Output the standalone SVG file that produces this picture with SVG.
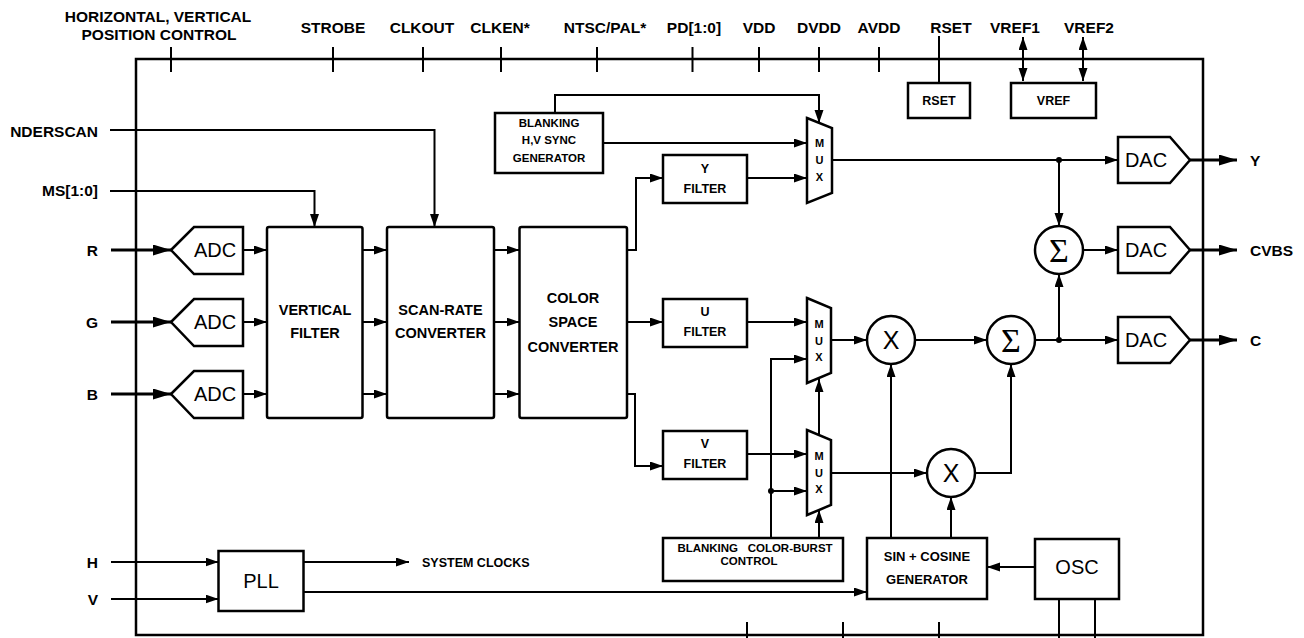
<svg xmlns="http://www.w3.org/2000/svg" width="1304" height="638" viewBox="0 0 1304 638">
<style>
text{font-family:"Liberation Sans",Arial,Helvetica,sans-serif;fill:#000}
.lbl{font-size:15.5px;font-weight:bold;text-anchor:middle}
.lft{font-size:15.5px;font-weight:bold;text-anchor:end}
.rgt{font-size:15.5px;font-weight:bold}
.b{fill:#fff;stroke:#000;stroke-width:2.5}
.w{fill:none;stroke:#000;stroke-width:2}
.t{fill:none;stroke:#000;stroke-width:3}
.big{font-size:20px;text-anchor:middle}
.blk{font-size:14.5px;font-weight:bold;text-anchor:middle}
.sm{font-size:12.5px;font-weight:bold;text-anchor:middle}
.xs{font-size:11.5px;font-weight:bold;text-anchor:middle}
.mux{font-size:11px;font-weight:bold;text-anchor:middle}
.sig{font-family:"Liberation Serif","Times New Roman",serif;font-size:34px;text-anchor:middle}
.mul{font-size:25px;text-anchor:middle}
.dot{fill:#000}
</style>
<defs>
<marker id="a" markerUnits="userSpaceOnUse" markerWidth="14" markerHeight="10" refX="13" refY="4.5" orient="auto"><path d="M0,0 L13,4.5 L0,9 z"/></marker>
<marker id="A" markerUnits="userSpaceOnUse" markerWidth="20" markerHeight="12" refX="18" refY="5.5" orient="auto"><path d="M0,0 L18,5.5 L0,11 z"/></marker>
<marker id="d" markerUnits="userSpaceOnUse" markerWidth="14" markerHeight="10" refX="13" refY="4.5" orient="auto-start-reverse"><path d="M0,0 L13,4.5 L0,9 z"/></marker>
</defs>
<rect id="chip" x="136" y="59" width="1067" height="576" fill="none" stroke="#000" stroke-width="2.5"/>
<g id="labels">
<text class="lbl" x="158" y="22">HORIZONTAL, VERTICAL</text>
<text class="lbl" x="159" y="40">POSITION CONTROL</text>
<text class="lbl" x="333" y="33">STROBE</text>
<text class="lbl" x="422" y="33">CLKOUT</text>
<text class="lbl" x="500" y="33">CLKEN*</text>
<text class="lbl" x="605" y="33">NTSC/PAL*</text>
<text class="lbl" x="694" y="33">PD[1:0]</text>
<text class="lbl" x="759" y="33">VDD</text>
<text class="lbl" x="819" y="33">DVDD</text>
<text class="lbl" x="879" y="33">AVDD</text>
<text class="lbl" x="951" y="33">RSET</text>
<text class="lbl" x="1015" y="33">VREF1</text>
<text class="lbl" x="1089" y="33">VREF2</text>
<text class="lft" x="98" y="137">NDERSCAN</text>
<text class="lft" x="98" y="196">MS[1:0]</text>
<text class="lft" x="98" y="256">R</text>
<text class="lft" x="98" y="328">G</text>
<text class="lft" x="98" y="400">B</text>
<text class="lft" x="98" y="568">H</text>
<text class="lft" x="98" y="605">V</text>
<text class="rgt" x="1250" y="166">Y</text>
<text class="rgt" x="1250" y="256">CVBS</text>
<text class="rgt" x="1250" y="346">C</text>
<text x="422" y="567" style="font-size:12.5px;font-weight:bold">SYSTEM CLOCKS</text>
</g>
<g id="connectors">
<path class="w" d="M171,47V72M333,47V72M423,47V72M501,47V72M597,47V72M692.5,47V72M759,47V72M819,47V72M879,47V72"/>
<path class="w" d="M747,622V638M843,622V638M939,622V638"/>
<path class="w" d="M939,36V83"/>
<path class="w" d="M1023,37V81" marker-start="url(#d)" marker-end="url(#d)"/>
<path class="w" d="M1083,37V81" marker-start="url(#d)" marker-end="url(#d)"/>
<path class="w" d="M110,130H434.5V227" marker-end="url(#a)"/>
<path class="w" d="M110,191H314.5V227" marker-end="url(#a)"/>
<path class="t" d="M111,250H171" marker-end="url(#A)"/>
<path class="t" d="M111,322H171" marker-end="url(#A)"/>
<path class="t" d="M111,394H171" marker-end="url(#A)"/>
<path class="w" d="M243,250H267" marker-end="url(#a)"/>
<path class="w" d="M243,322H267" marker-end="url(#a)"/>
<path class="w" d="M243,394H267" marker-end="url(#a)"/>
<path class="w" d="M362.5,250H387" marker-end="url(#a)"/>
<path class="w" d="M362.5,322H387" marker-end="url(#a)"/>
<path class="w" d="M362.5,394H387" marker-end="url(#a)"/>
<path class="w" d="M494,250H519.5" marker-end="url(#a)"/>
<path class="w" d="M494,322H519.5" marker-end="url(#a)"/>
<path class="w" d="M494,394H519.5" marker-end="url(#a)"/>
<path class="w" d="M627,250H636V178H663" marker-end="url(#a)"/>
<path class="w" d="M627,322H663" marker-end="url(#a)"/>
<path class="w" d="M627,394H635V466H663" marker-end="url(#a)"/>
<path class="w" d="M555,113V95H819V123" marker-end="url(#a)"/>
<path class="w" d="M603,143H807" marker-end="url(#a)"/>
<path class="w" d="M747,178H807" marker-end="url(#a)"/>
<path class="w" d="M832,160H1118" marker-end="url(#a)"/>
<path class="w" d="M1059,160V226" marker-end="url(#a)"/>
<path class="w" d="M1083,250H1118" marker-end="url(#a)"/>
<path class="w" d="M747,322H807" marker-end="url(#a)"/>
<path class="w" d="M771,538V359H807" marker-end="url(#a)"/>
<path class="w" d="M747,454H807" marker-end="url(#a)"/>
<path class="w" d="M771,491H807" marker-end="url(#a)"/>
<path class="w" d="M819,538V510" marker-end="url(#a)"/>
<path class="w" d="M819,435V379" marker-end="url(#a)"/>
<path class="w" d="M831,340H867" marker-end="url(#a)"/>
<path class="w" d="M915,340H987" marker-end="url(#a)"/>
<path class="w" d="M1035,340H1118" marker-end="url(#a)"/>
<path class="w" d="M1059,340V274" marker-end="url(#a)"/>
<path class="w" d="M831,473H927" marker-end="url(#a)"/>
<path class="w" d="M975,473H1011V364" marker-end="url(#a)"/>
<path class="w" d="M891,538V364" marker-end="url(#a)"/>
<path class="w" d="M951,538V497" marker-end="url(#a)"/>
<path class="w" d="M1035,567H987" marker-end="url(#a)"/>
<path class="w" d="M303.5,592H867" marker-end="url(#a)"/>
<path class="w" d="M303.5,562H409" marker-end="url(#a)"/>
<path class="w" d="M111,562H218.5" marker-end="url(#a)"/>
<path class="w" d="M111,599H218.5" marker-end="url(#a)"/>
<path class="w" d="M1059,599V638M1095,599V638"/>
<path class="t" d="M1190,160H1237" marker-end="url(#A)"/>
<path class="t" d="M1190,250H1237" marker-end="url(#A)"/>
<path class="t" d="M1190,340H1237" marker-end="url(#A)"/>
<circle class="dot" cx="1059" cy="160" r="3"/>
<circle class="dot" cx="1059" cy="340" r="3"/>
<circle class="dot" cx="771" cy="491" r="3"/>
</g>
<g id="adc-r"><polygon class="b" points="171,250 194,227 243,227 243,274 194,274"/><text class="big" x="215" y="257">ADC</text></g>
<g id="adc-g"><polygon class="b" points="171,322 194,299 243,299 243,346 194,346"/><text class="big" x="215" y="329">ADC</text></g>
<g id="adc-b"><polygon class="b" points="171,394 194,371 243,371 243,418 194,418"/><text class="big" x="215" y="401">ADC</text></g>
<g id="vfilter"><rect class="b" x="267" y="227" width="95.5" height="191" rx="2"/><text class="blk" x="315" y="315">VERTICAL</text><text class="blk" x="315" y="338">FILTER</text></g>
<g id="scanrate"><rect class="b" x="387" y="227" width="107" height="191" rx="2"/><text class="blk" x="440.5" y="315">SCAN-RATE</text><text class="blk" x="440.5" y="338">CONVERTER</text></g>
<g id="csc"><rect class="b" x="519.5" y="227" width="107.5" height="191" rx="2"/><text class="blk" x="573" y="303">COLOR</text><text class="blk" x="573" y="327">SPACE</text><text class="blk" x="573" y="352">CONVERTER</text></g>
<g id="syncgen"><rect class="b" x="495" y="113" width="108" height="60"/><text class="xs" x="549" y="127">BLANKING</text><text class="xs" x="549" y="144">H,V SYNC</text><text class="xs" x="549" y="162">GENERATOR</text></g>
<g id="yfilter"><rect class="b" x="663" y="155" width="84" height="48"/><text class="sm" x="705" y="173">Y</text><text class="sm" x="705" y="193">FILTER</text></g>
<g id="ufilter"><rect class="b" x="663" y="299" width="84" height="48"/><text class="sm" x="705" y="316">U</text><text class="sm" x="705" y="336">FILTER</text></g>
<g id="vfilt"><rect class="b" x="663" y="431" width="84" height="48"/><text class="sm" x="705" y="448">V</text><text class="sm" x="705" y="468">FILTER</text></g>
<g id="ymux"><polygon class="b" points="807,118 832,128 832,193 807,203"/><text class="mux" x="819.5" y="147">M</text><text class="mux" x="819.5" y="164">U</text><text class="mux" x="819.5" y="181">X</text></g>
<g id="umux"><polygon class="b" points="807,298 831,308 831,373 807,383"/><text class="mux" x="819" y="328">M</text><text class="mux" x="819" y="345">U</text><text class="mux" x="819" y="361">X</text></g>
<g id="vmux"><polygon class="b" points="807,430 831,440 831,505 807,515"/><text class="mux" x="819" y="460">M</text><text class="mux" x="819" y="477">U</text><text class="mux" x="819" y="493">X</text></g>
<g id="burstctl"><rect class="b" x="663" y="538" width="180" height="43"/><text class="xs" x="755" y="552" xml:space="preserve">BLANKING   COLOR-BURST</text><text class="xs" x="749" y="565">CONTROL</text></g>
<g id="sincos"><rect class="b" x="867" y="538" width="120" height="61"/><text class="sm" x="927" y="561" style="font-size:13px">SIN + COSINE</text><text class="sm" x="927" y="584" style="font-size:13px">GENERATOR</text></g>
<g id="osc"><rect class="b" x="1035" y="539" width="84" height="60"/><text class="big" x="1077" y="574">OSC</text></g>
<g id="pll"><rect class="b" x="218.5" y="551" width="85" height="60"/><text class="big" x="261" y="588">PLL</text></g>
<g id="mul1"><circle class="b" cx="891" cy="340" r="24"/><text class="mul" x="891" y="349">X</text></g>
<g id="mul2"><circle class="b" cx="951" cy="473" r="24"/><text class="mul" x="951" y="482">X</text></g>
<g id="sum-c"><circle class="b" cx="1011" cy="340" r="24"/><text class="sig" x="1011" y="352">Σ</text></g>
<g id="sum-cvbs"><circle class="b" cx="1059" cy="250" r="24"/><text class="sig" x="1059" y="262">Σ</text></g>
<g id="dac-y"><polygon class="b" points="1118,137 1170,137 1190,160 1170,183 1118,183"/><text class="big" x="1146" y="167">DAC</text></g>
<g id="dac-cvbs"><polygon class="b" points="1118,227 1170,227 1190,250 1170,273 1118,273"/><text class="big" x="1146" y="257">DAC</text></g>
<g id="dac-c"><polygon class="b" points="1118,317 1170,317 1190,340 1170,363 1118,363"/><text class="big" x="1146" y="347">DAC</text></g>
<g id="rset"><rect class="b" x="908" y="83" width="62" height="35"/><text class="sm" x="939" y="105">RSET</text></g>
<g id="vref"><rect class="b" x="1011" y="83" width="85" height="35"/><text class="sm" x="1053.5" y="105">VREF</text></g>
</svg>
